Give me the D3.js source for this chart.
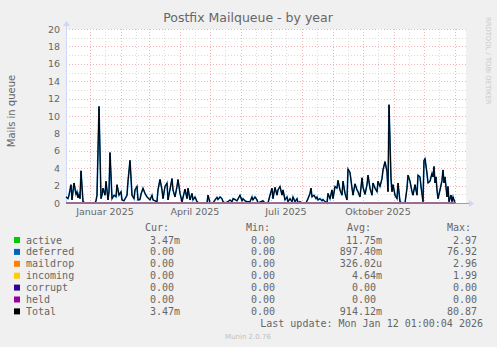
<!DOCTYPE html>
<html><head><meta charset="utf-8">
<script src="https://cdn.jsdelivr.net/npm/d3@7"></script>
<style>
html,body{margin:0;padding:0;background:#f0f0f0;}
svg{display:block;}
text{font-family:"DejaVu Sans",sans-serif;}
.mono{font-family:"DejaVu Sans Mono",monospace;font-size:10px;fill:#666;white-space:pre;}
</style></head>
<body>
<script>
// ---------- data ----------
const startDate = Date.UTC(2024, 11, 8, 1);   // graph start (400 days window)
const spanDays = 400;
const yTicks = [0,2,4,6,8,10,12,14,16,18,20];
const xLabels = ["Januar 2025","April 2025","Juli 2025","Oktober 2025"];
const xLabelDates = ["2025-01-16","2025-04-16","2025-07-16","2025-10-16"];

// day offsets from start and daily-average queue sizes (deferred dominates)
const days = [0,2,3,5,6,8,10,11,12,13,14,15,17,19,29,30,31,33,35,36,37,39,40,42,43,44,46,48,50,51,53,55,56,58,61,62,64,66,68,69,71,72,74,75,77,79,81,84,86,87,91,92,94,96,97,99,101,102,106,107,109,111,112,114,116,119,121,122,124,126,127,129,131,133,141,142,144,147,149,151,152,154,156,157,159,162,164,166,167,169,171,174,176,177,179,181,184,186,187,189,191,192,197,199,202,204,206,207,209,211,212,214,216,217,219,221,222,224,226,227,229,231,232,234,236,240,242,244,245,246,248,250,251,252,254,256,257,259,261,262,264,266,267,269,271,272,274,276,277,279,281,282,284,286,287,289,291,292,294,296,297,299,301,302,304,306,307,309,311,312,314,316,317,319,321,322,323,325,326,327,329,331,332,334,336,339,341,342,344,346,347,349,351,352,354,355,357,358,359,361,362,364,366,367,368,369,370,371,372,374,376,377,378,379,381,382,383,385,386,387,389];
const deferred = [0.7,0.5,0.9,2.1,0.35,2.3,1.0,1.3,0.6,1.0,0.5,3.7,0.15,0,0,0.25,0.9,11.1,0.5,0.9,1.7,0.9,2.5,0.35,1.3,5.8,0.5,0.9,0.7,2.1,0.9,1.3,0.35,0.25,0.9,2.5,4.9,0.9,0.5,1.5,1.9,0.35,0.4,1.0,1.7,1.1,0.7,0.35,0.9,0.35,0.15,1.5,2.7,1.5,0.5,1.9,2.3,0.35,2.8,1.5,0.7,1.9,2.7,1.1,0.15,1.6,0.5,1.7,0.35,1.1,0.35,0.7,0.15,0,0,0.9,0,0,0.35,0.65,0.4,0.7,0.5,0.15,0,0.15,0.35,0.15,0.5,0.4,0.25,0.9,0.25,0.5,0.25,0.15,0.15,0.7,0.35,0.7,0.35,0,0.25,0,0,0.9,1.7,0.5,1.8,0.9,1.5,1.9,0.9,1.5,0.35,0.7,0.15,0.5,0.15,0.7,0.15,0.5,0,0.15,0,0,0.5,1.1,1.7,0.7,0.9,0.5,0.7,0.35,0.5,0.25,0.4,0.15,0,1.1,0.5,1.5,0.5,1.9,1.7,2.6,1.5,0.9,2.5,1.1,0.35,3.9,3.5,1.7,0.9,2.2,1.5,1.3,0.7,2.9,1.8,1.0,2.1,3.2,1.7,0.9,2.3,1.7,1.3,2.5,1.9,2.8,3.8,4.75,3.6,1.3,11.3,2.8,1.3,2.1,0.9,0.5,2.3,0.15,0,0,1.7,3.2,2.5,1.3,0.9,2.1,0.9,3.2,3.0,1.9,0.15,4.9,5.1,3.4,2.3,2.5,3.4,3.0,4.2,2.3,3.0,1.5,0.5,1.5,2.6,3.8,2.3,3.0,0.7,1.9,0.15,0.9,0.15,0.7,0];
// small series (flat near zero over the whole data range)
const flatDays = [0,389];
const active = [0,0];
const maildrop = [0,0];
const incoming = [0,0];
const corrupt = [0,0];
const held = [0,0];

// legend
const legNames = ["active","deferred","maildrop","incoming","corrupt","held","Total"];
const legColors = ["#00cc00","#0066b3","#ff8000","#ffcc00","#330099","#990099","#000000"];
const legCur = ["3.47m","0.00 ","0.00 ","0.00 ","0.00 ","0.00 ","3.47m"];
const legMin = ["0.00 ","0.00 ","0.00 ","0.00 ","0.00 ","0.00 ","0.00 "];
const legAvg = ["11.75m","897.40m","326.02u","4.64m","0.00 ","0.00 ","914.12m"];
const legMax = ["2.97 ","76.92 ","2.96 ","1.99 ","0.00 ","0.00 ","80.87 "];

// ---------- drawing ----------
const W = 497, H = 347;
const L = 66, R = 466, T = 29, B = 203;
const svg = d3.select("body").append("svg").attr("width", W).attr("height", H);
svg.append("rect").attr("width", W).attr("height", H).attr("fill", "#f0f0f0");

const dayMs = 864e5;
const x = d3.scaleUtc().domain([new Date(startDate), new Date(startDate + spanDays*dayMs)]).range([L, R]);
const y = d3.scaleLinear().domain([0, 20]).range([B, T]);
const dt = d => new Date(startDate + d*dayMs);

svg.append("rect").attr("x", L).attr("y", T).attr("width", R-L).attr("height", B-T).attr("fill", "#ffffff");

const g = svg.append("g");
const minorCol = "#dcdcdc", majorCol = "#f2b4b4";
// horizontal grid
d3.range(1, 21).forEach(v => {
  const major = v % 2 === 0;
  g.append("line").attr("x1", L).attr("x2", R).attr("y1", Math.round(y(v))+0.5).attr("y2", Math.round(y(v))+0.5)
   .attr("stroke", major ? majorCol : minorCol).attr("stroke-width", 1).attr("stroke-dasharray", "1,2");
});
// vertical grid: month starts (major) and mid-month (minor)
const months = d3.utcMonth.range(x.domain()[0], x.domain()[1]);
months.forEach(m => {
  const mid = new Date(Date.UTC(m.getUTCFullYear(), m.getUTCMonth(), 16));
  if (mid > x.domain()[0] && mid < x.domain()[1]) {
    const xm = Math.round(x(mid))+0.5;
    g.append("line").attr("x1", xm).attr("x2", xm).attr("y1", T).attr("y2", B)
     .attr("stroke", minorCol).attr("stroke-dasharray", "1,2");
  }
});
months.forEach(m => {
  const xm = Math.round(x(m))+0.5;
  g.append("line").attr("x1", xm).attr("x2", xm).attr("y1", T).attr("y2", B)
   .attr("stroke", majorCol).attr("stroke-dasharray", "1,2");
});

// axes
const axisCol = "#cfd6f8";
svg.append("line").attr("x1", L+0.5).attr("x2", L+0.5).attr("y1", B).attr("y2", T-5).attr("stroke", axisCol);
svg.append("path").attr("d", `M${L-3},${T-3} L${L+0.5},${T-8} L${L+4},${T-3} Z`).attr("fill", axisCol);
svg.append("line").attr("x1", L).attr("x2", R+5).attr("y1", B+0.5).attr("y2", B+0.5).attr("stroke", "#a0a0a0");
svg.append("path").attr("d", `M${R+3},${B-3} L${R+8},${B+0.5} L${R+3},${B+4} Z`).attr("fill", axisCol);

// y tick labels
svg.append("g").selectAll("text").data(yTicks).join("text")
  .attr("x", 60).attr("y", d => y(d)+3.5).attr("text-anchor", "end")
  .attr("font-size", "9.5px").attr("fill", "#666").text(d => d);
// x labels
svg.append("g").selectAll("text").data(xLabels).join("text")
  .attr("x", (d,i) => x(new Date(xLabelDates[i]+"T00:00:00Z"))).attr("y", 215).attr("text-anchor", "middle")
  .attr("font-size", "9.5px").attr("fill", "#666").text(d => d);

// series lines
const line = d3.line().x(p => x(dt(p[0]))).y(p => y(p[1]));
const pts = (ds, vs) => ds.map((d,i) => [d, vs[i]]);
const totalVals = deferred.map(v => v); // other series ~0, so Total = deferred
svg.append("path").datum(pts(days, deferred)).attr("d", line).attr("fill","none").attr("stroke","#0066b3").attr("stroke-width",1.6);
svg.append("path").datum(pts(days, totalVals)).attr("d", line).attr("fill","none").attr("stroke","#000").attr("stroke-width",1);
[[active,"#00cc00"],[maildrop,"#ff8000"],[incoming,"#ffcc00"],[corrupt,"#330099"],[held,"#b07fd0"]].forEach(([vals,c]) => {
  svg.append("path").datum(pts(flatDays, vals)).attr("d", line).attr("fill","none").attr("stroke",c).attr("stroke-width",1.2);
});

// title
svg.append("text").attr("x", 248).attr("y", 22).attr("text-anchor","middle").attr("font-size","12.5px").attr("fill","#666").text("Postfix Mailqueue - by year");
// y title
svg.append("text").attr("transform","translate(15,111) rotate(-90)").attr("text-anchor","middle").attr("font-size","10px").attr("fill","#666").text("Mails in queue");
// rrdtool credit
svg.append("text").attr("transform","translate(486,17) rotate(90)").attr("font-size","6.8px").attr("fill","#c8c8c8").text("RRDTOOL / TOBI OETIKER");

// legend
const hdrY = 231;
[["Cur:",145],["Min:",246],["Avg:",347],["Max:",447]].forEach(([t,xx]) =>
  svg.append("text").attr("class","mono").attr("x",xx).attr("y",hdrY).text(t));
const rowY = i => 243.5 + i*11.9;
legNames.forEach((n,i) => {
  svg.append("rect").attr("x",14).attr("y",rowY(i)-6.5).attr("width",6).attr("height",6).attr("fill",legColors[i]);
  svg.append("text").attr("class","mono").attr("x",26).attr("y",rowY(i)).text(n);
  [[legCur,180],[legMin,281],[legAvg,382],[legMax,483]].forEach(([arr,xe]) =>
    svg.append("text").attr("class","mono").attr("x",xe).attr("y",rowY(i)).attr("text-anchor","end").text(arr[i]));
});
svg.append("text").attr("class","mono").attr("x",483).attr("y",327).attr("text-anchor","end").text("Last update: Mon Jan 12 01:00:04 2026");
svg.append("text").attr("x",248).attr("y",339).attr("text-anchor","middle").attr("font-size","7px").attr("fill","#c0c0c0").text("Munin 2.0.76");
</script>
</body></html>
